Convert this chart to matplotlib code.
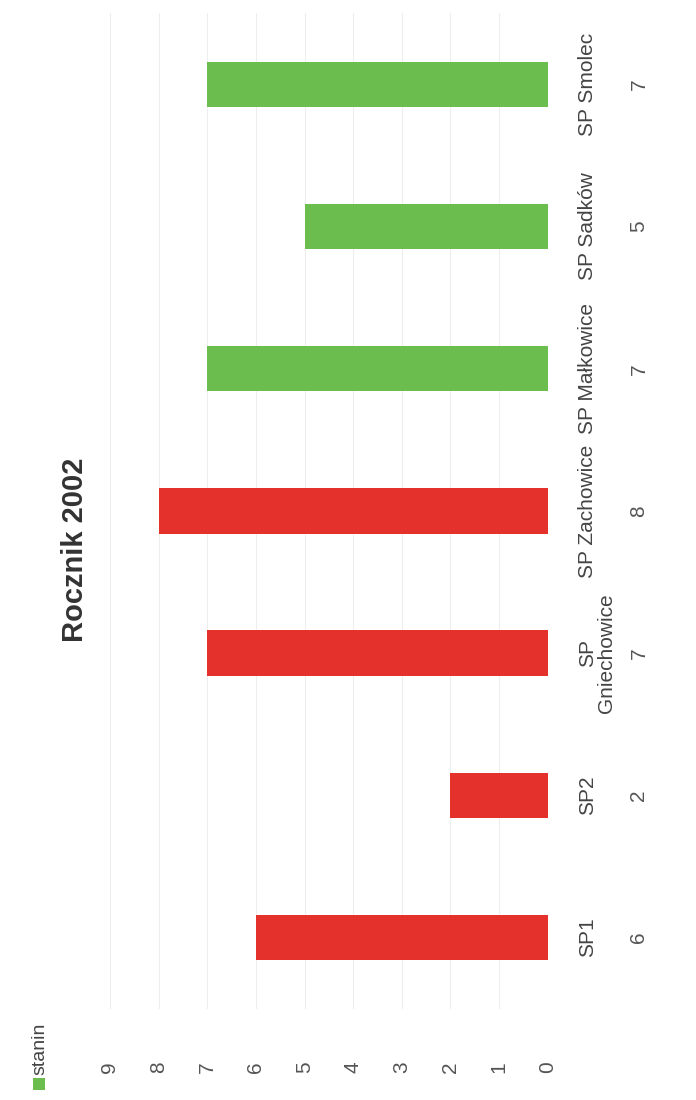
import matplotlib.pyplot as plt
from matplotlib.patches import Rectangle
from matplotlib import transforms

plt.rcParams['font.family'] = ['Liberation Sans', 'DejaVu Sans']

# data
schools = ['SP1', 'SP2', 'SP\nGniechowice', 'SP Zachowice', 'SP Małkowice', 'SP Sadków', 'SP Smolec']
stanin = [6, 2, 7, 8, 7, 5, 7]
colors = ['#e5312b'] * 4 + ['#6bbd4e'] * 3
ticks = list(range(0, 10))

fig = plt.figure(figsize=(6.96, 11), dpi=100)
ax = fig.add_axes([0.158, 0.083, 0.629, 0.905])

pos = list(range(len(schools)))
ax.barh(pos, stanin, height=0.32, color=colors, zorder=3)

ax.set_xlim(9, 0)
ax.set_ylim(-0.5, len(schools) - 0.5)
ax.set_xticks(ticks)
ax.set_xticklabels([str(t) for t in ticks], rotation=90, fontsize=15, color='#555555')
ax.tick_params(axis='x', length=0, pad=38)
ax.grid(axis='x', color='#eeeeee', lw=0.8, zorder=0)

ax.yaxis.tick_right()
ax.set_yticks(pos)
ax.set_yticklabels(schools, rotation=90, va='center', ha='left', fontsize=15,
                   color='#444444', linespacing=1.0, multialignment='center')
ax.tick_params(axis='y', length=0, pad=22)

for s in ax.spines.values():
    s.set_visible(False)

# values row under the names
trans = transforms.blended_transform_factory(fig.transFigure, ax.transData)
for p, v in zip(pos, stanin):
    ax.text(0.918, p, str(v), transform=trans, rotation=90, ha='center', va='center',
            fontsize=15, color='#555555')

# title
fig.text(0.108, 0.5, 'Rocznik 2002', rotation=90, ha='center', va='center',
         fontsize=21, fontweight='bold', color='#333333')

# legend
fig.patches.append(Rectangle((0.048, 0.009), 0.017, 0.011, transform=fig.transFigure,
                             facecolor='#6bbd4e', edgecolor='none'))
fig.text(0.058, 0.023, 'stanin', rotation=90, ha='center', va='bottom',
         fontsize=14, color='#444444')

fig.savefig('out.png', dpi=100, facecolor='white')
